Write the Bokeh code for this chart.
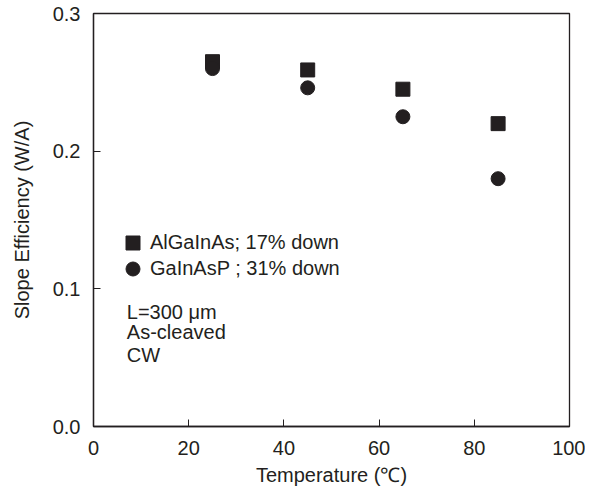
from bokeh.plotting import figure
from bokeh.models import Range1d, FixedTicker, NumeralTickFormatter, Legend, LegendItem, Label, ColumnDataSource
from bokeh.embed import file_html
from bokeh.resources import INLINE

# ---- data ----
temperature = [25, 45, 65, 85]
algainas = [0.265, 0.259, 0.245, 0.220]
gainasp = [0.260, 0.246, 0.225, 0.180]
x_ticks = [0, 20, 40, 60, 80, 100]
y_ticks = [0.0, 0.1, 0.2, 0.3]
series_names = ["AlGaInAs; 17% down", "GaInAsP ; 31% down"]
notes = ["L=300 μm", "As-cleaved", "CW"]

INK = "#231f20"
FONT = "Liberation Sans"
FS = "20px"

p = figure(frame_width=476, frame_height=413, output_backend="svg", toolbar_location=None,
           x_range=Range1d(0, 100), y_range=Range1d(0, 0.3),
           min_border_left=93, min_border_right=16, min_border_top=13, min_border_bottom=55)
p.background_fill_color = "white"
p.border_fill_color = "white"
p.grid.visible = False
p.outline_line_color = INK
p.outline_line_width = 1.3

src = ColumnDataSource(dict(t=temperature, a=algainas, g=gainasp))
r1 = p.scatter("t", "a", source=src, marker="square", size=14, fill_color=INK, line_color=INK)
r2 = p.scatter("t", "g", source=src, marker="circle", size=14, fill_color=INK, line_color=INK)

for ax in (p.xaxis[0], p.yaxis[0]):
    ax.axis_line_color = INK
    ax.axis_line_width = 1.3
    ax.major_tick_line_color = INK
    ax.major_tick_line_width = 1
    ax.major_tick_in = 7
    ax.major_tick_out = 0
    ax.minor_tick_line_color = None
    ax.major_label_text_font = FONT
    ax.major_label_text_font_size = FS
    ax.major_label_text_color = INK
    ax.axis_label_text_font = FONT
    ax.axis_label_text_font_size = FS
    ax.axis_label_text_font_style = "normal"
    ax.axis_label_text_color = INK

p.xaxis.ticker = FixedTicker(ticks=x_ticks)
p.yaxis.ticker = FixedTicker(ticks=y_ticks)
p.yaxis.formatter = NumeralTickFormatter(format="0.0")
p.xaxis.major_label_standoff = 14
p.yaxis.major_label_standoff = 13
p.xaxis.axis_label = "Temperature (℃)"
p.yaxis.axis_label = "Slope Efficiency (W/A)"
p.xaxis.axis_label_standoff = 6
p.yaxis.axis_label_standoff = 17

legend_rows = [(166, r1), (140, r2)]
for (vy, rend), name in zip(legend_rows, series_names):
    lg = Legend(items=[LegendItem(label=name, renderers=[rend])],
                location=(22, vy), glyph_width=35, glyph_height=35,
                label_standoff=0, padding=0, margin=0,
                border_line_color=None, background_fill_alpha=0,
                label_text_font=FONT, label_text_font_size=FS, label_text_color=INK)
    p.add_layout(lg)

note_y = [0.0835, 0.0683, 0.0516]
for txt, yy in zip(notes, note_y):
    p.add_layout(Label(x=7.0, y=yy, text=txt, text_font=FONT, text_font_size=FS,
                       text_color=INK, text_baseline="middle", text_align="left"))

open("out.html", "w").write(file_html(p, INLINE))
